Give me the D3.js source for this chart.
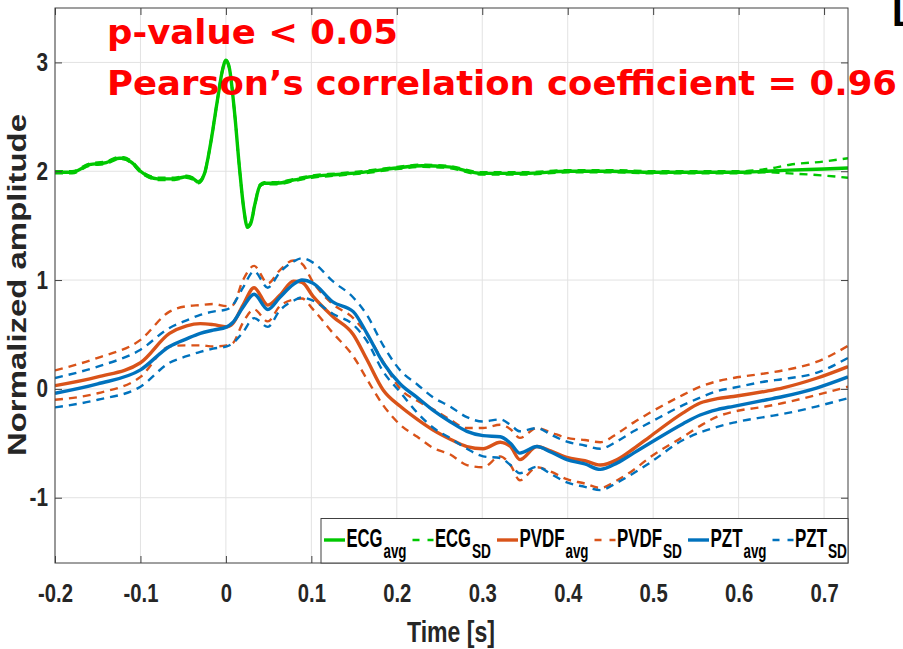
<!DOCTYPE html>
<html>
<head>
  <meta charset="utf-8">
  <script src="https://d3js.org/d3.v7.min.js"></script>
  <style>
    body { margin: 0; background: #fff; }
    svg { display: block; }
    .tick text {
      font-family: "Liberation Sans", Arial, sans-serif;
      font-weight: bold;
      font-size: 25px;
      fill: #262626;
    }
  </style>
</head>
<body>
<script>
// ECG trace, sampled more densely around the QRS complex
var ecgTime = [-0.2, -0.18, -0.16, -0.14, -0.125, -0.12, -0.11, -0.1, -0.09, -0.08, -0.06, -0.046,
  -0.038, -0.032, -0.025, -0.018, -0.01, -0.004, 0, 0.004, 0.01, 0.016, 0.021, 0.025, 0.029, 0.034,
  0.04, 0.045, 0.06, 0.08, 0.1, 0.13, 0.16, 0.2, 0.23, 0.26, 0.3, 0.35, 0.4, 0.45, 0.5, 0.55, 0.6,
  0.633, 0.66, 0.7, 0.728];
var ecgAvg = [1.99, 1.99, 2.06, 2.08, 2.12, 2.12, 2.08, 2.0, 1.95, 1.93, 1.93, 1.95,
  1.93, 1.9, 1.98, 2.25, 2.65, 2.93, 3.02, 2.95, 2.55, 2.02, 1.65, 1.49, 1.52, 1.7,
  1.87, 1.89, 1.89, 1.92, 1.95, 1.97, 1.99, 2.03, 2.05, 2.04, 1.98, 1.98, 2.0, 2.0, 1.99, 1.99, 1.99,
  2.0, 2.01, 2.02, 2.03];
var ecgUpper = [2.0, 2.0, 2.07, 2.09, 2.13, 2.13, 2.09, 2.01, 1.96, 1.94, 1.94, 1.96,
  1.94, 1.91, 1.99, 2.26, 2.66, 2.94, 3.02, 2.96, 2.56, 2.03, 1.66, 1.5, 1.53, 1.71,
  1.88, 1.9, 1.9, 1.93, 1.96, 1.98, 2.0, 2.04, 2.06, 2.05, 1.99, 1.99, 2.01, 2.01, 2.0, 2.0, 2.0,
  2.02, 2.06, 2.09, 2.12];
var ecgLower = [1.98, 1.98, 2.05, 2.07, 2.11, 2.11, 2.07, 1.99, 1.94, 1.92, 1.92, 1.94,
  1.92, 1.89, 1.97, 2.24, 2.64, 2.92, 3.01, 2.94, 2.54, 2.01, 1.64, 1.48, 1.51, 1.69,
  1.86, 1.88, 1.88, 1.91, 1.94, 1.96, 1.98, 2.02, 2.04, 2.03, 1.97, 1.97, 1.99, 1.99, 1.98, 1.98, 1.98,
  1.99, 1.98, 1.96, 1.94];

// PVDF and PZT sensor traces
var sensorTime = [-0.2, -0.15, -0.1, -0.066, -0.046, -0.03, -0.015, 0.001, 0.008, 0.02, 0.033, 0.049,
  0.063, 0.079, 0.089, 0.102, 0.125, 0.149, 0.165, 0.184, 0.204, 0.224, 0.243, 0.262, 0.282, 0.301,
  0.321, 0.333, 0.344, 0.364, 0.38, 0.399, 0.42, 0.438, 0.458, 0.477, 0.496, 0.535, 0.555, 0.575,
  0.594, 0.633, 0.652, 0.692, 0.728];
var pvdfAvg = [0.03, 0.11, 0.24, 0.51, 0.58, 0.6, 0.59, 0.57, 0.6, 0.77, 0.93, 0.77,
  0.86, 0.99, 0.98, 0.85, 0.665, 0.5, 0.27, -0.01, -0.16, -0.28, -0.38, -0.46, -0.53, -0.55,
  -0.49, -0.53, -0.65, -0.53, -0.57, -0.63, -0.66, -0.7, -0.65, -0.55, -0.44, -0.22, -0.13, -0.09,
  -0.07, -0.02, 0.01, 0.1, 0.205];
var pvdfUpper = [0.17, 0.285, 0.45, 0.71, 0.76, 0.77, 0.78, 0.76, 0.77, 1.0, 1.13, 0.97,
  1.09, 1.18, 1.15, 0.98, 0.78, 0.65, 0.5, 0.25, 0.0, -0.11, -0.19, -0.28, -0.36, -0.36,
  -0.33, -0.37, -0.45, -0.36, -0.4, -0.45, -0.47, -0.49, -0.41, -0.31, -0.22, -0.055, 0.02, 0.07,
  0.1, 0.145, 0.17, 0.25, 0.395];
var pvdfLower = [-0.1, -0.04, 0.11, 0.39, 0.4, 0.4, 0.39, 0.4, 0.42, 0.61, 0.73, 0.62,
  0.76, 0.82, 0.83, 0.73, 0.515, 0.3, 0.09, -0.15, -0.33, -0.44, -0.545, -0.6, -0.7, -0.72,
  -0.62, -0.7, -0.84, -0.72, -0.76, -0.83, -0.87, -0.91, -0.84, -0.745, -0.63, -0.44, -0.34, -0.255,
  -0.21, -0.16, -0.13, -0.055, 0.02];
var pztAvg = [-0.04, 0.046, 0.175, 0.39, 0.46, 0.51, 0.54, 0.57, 0.61, 0.75, 0.87, 0.73,
  0.84, 0.96, 1.0, 0.97, 0.8, 0.71, 0.51, 0.24, 0.045, -0.08, -0.2, -0.3, -0.39, -0.43,
  -0.44, -0.5, -0.59, -0.53, -0.58, -0.65, -0.69, -0.74, -0.68, -0.59, -0.5, -0.32, -0.24, -0.19,
  -0.16, -0.1, -0.07, 0.01, 0.11];
var pztUpper = [0.1, 0.205, 0.36, 0.56, 0.63, 0.68, 0.71, 0.73, 0.77, 0.93, 1.08, 0.93,
  1.07, 1.17, 1.2, 1.16, 0.99, 0.84, 0.68, 0.4, 0.17, 0.04, -0.08, -0.16, -0.26, -0.3,
  -0.28, -0.33, -0.39, -0.36, -0.42, -0.485, -0.52, -0.55, -0.48, -0.39, -0.31, -0.15, -0.08, -0.02,
  0.01, 0.07, 0.09, 0.15, 0.285];
var pztLower = [-0.17, -0.1, 0.02, 0.24, 0.3, 0.34, 0.37, 0.39, 0.42, 0.52, 0.65, 0.57,
  0.72, 0.81, 0.84, 0.81, 0.69, 0.59, 0.44, 0.16, -0.03, -0.22, -0.36, -0.45, -0.55, -0.62,
  -0.635, -0.7, -0.775, -0.715, -0.78, -0.86, -0.9, -0.93, -0.86, -0.775, -0.68, -0.47, -0.4, -0.35,
  -0.31, -0.255, -0.23, -0.16, -0.085];

var xTicks = [-0.2, -0.1, 0, 0.1, 0.2, 0.3, 0.4, 0.5, 0.6, 0.7];
var yTicks = [-1, 0, 1, 2, 3];

var green = "#00c800", orange = "#d95319", blue = "#0072bd";

var legendItems = [
  {name: "ECG", sub: "avg", color: green, dashed: false},
  {name: "ECG", sub: "SD", color: green, dashed: true},
  {name: "PVDF", sub: "avg", color: orange, dashed: false},
  {name: "PVDF", sub: "SD", color: orange, dashed: true},
  {name: "PZT", sub: "avg", color: blue, dashed: false},
  {name: "PZT", sub: "SD", color: blue, dashed: true}
];

var margin = {top: 8, right: 55, bottom: 86, left: 55};
var width = 903, height = 649;
var innerW = width - margin.left - margin.right,
    innerH = height - margin.top - margin.bottom;

var svg = d3.select("body").append("svg")
  .attr("width", width)
  .attr("height", height);

var x = d3.scaleLinear().domain([-0.2, 0.728]).range([margin.left, margin.left + innerW]);
var y = d3.scaleLinear().domain([-1.6, 3.5]).range([margin.top + innerH, margin.top]);

// grid
svg.append("g").selectAll("line").data(xTicks).enter().append("line")
  .attr("x1", function (d) { return x(d); }).attr("x2", function (d) { return x(d); })
  .attr("y1", y.range()[1]).attr("y2", y.range()[0])
  .style("stroke", "#e2e2e2").style("stroke-width", 1);
svg.append("g").selectAll("line").data(yTicks).enter().append("line")
  .attr("y1", function (d) { return y(d); }).attr("y2", function (d) { return y(d); })
  .attr("x1", x.range()[0]).attr("x2", x.range()[1])
  .style("stroke", "#e2e2e2").style("stroke-width", 1);

svg.append("clipPath").attr("id", "plot-clip").append("rect")
  .attr("x", margin.left).attr("y", margin.top).attr("width", innerW).attr("height", innerH);

var plot = svg.append("g").attr("clip-path", "url(#plot-clip)");

function drawLine(times, values, color, dashed) {
  var line = d3.line()
    .x(function (d, i) { return x(times[i]); })
    .y(function (d) { return y(d); })
    .curve(d3.curveMonotoneX);
  plot.append("path")
    .attr("d", line(values))
    .style("fill", "none")
    .style("stroke", color)
    .style("stroke-width", dashed ? 2.4 : 3.4)
    .style("stroke-dasharray", dashed ? "8,6" : null)
    .style("stroke-linejoin", "round");
}

drawLine(ecgTime, ecgAvg, green, false);
drawLine(ecgTime, ecgUpper, green, true);
drawLine(ecgTime, ecgLower, green, true);
drawLine(sensorTime, pvdfAvg, orange, false);
drawLine(sensorTime, pvdfUpper, orange, true);
drawLine(sensorTime, pvdfLower, orange, true);
drawLine(sensorTime, pztAvg, blue, false);
drawLine(sensorTime, pztUpper, blue, true);
drawLine(sensorTime, pztLower, blue, true);

// squeeze text horizontally, the figure uses a narrow font
function squeeze(sel, k) {
  sel.each(function () {
    var w = this.getComputedTextLength();
    d3.select(this).attr("textLength", w * k).attr("lengthAdjust", "spacingAndGlyphs");
  });
}

// axes, MATLAB style: box with inward ticks
var axisColor = "#404040";
var xAxis = svg.append("g")
  .attr("transform", "translate(0," + y.range()[0] + ")")
  .call(d3.axisBottom(x).tickValues(xTicks).tickSize(-7).tickPadding(21)
    .tickFormat(function (d) { return String(+d.toFixed(1)); }));
squeeze(xAxis.selectAll("text"), 0.81);

var yAxis = svg.append("g")
  .attr("transform", "translate(" + x.range()[0] + ",0)")
  .call(d3.axisLeft(y).tickValues(yTicks).tickSize(-7).tickPadding(7)
    .tickFormat(function (d) { return String(d); }));
squeeze(yAxis.selectAll("text"), 0.83);

svg.append("g")
  .attr("transform", "translate(0," + y.range()[1] + ")")
  .call(d3.axisTop(x).tickValues(xTicks).tickSize(-7).tickFormat(""));
svg.append("g")
  .attr("transform", "translate(" + x.range()[1] + ",0)")
  .call(d3.axisRight(y).tickValues(yTicks).tickSize(-7).tickFormat(""));

svg.selectAll(".domain").remove();
svg.selectAll(".tick line").style("stroke", axisColor);

svg.append("rect")
  .attr("x", margin.left).attr("y", margin.top)
  .attr("width", innerW).attr("height", innerH)
  .style("fill", "none").style("stroke", axisColor).style("stroke-width", 1);

// axis titles
svg.append("text")
  .attr("x", 451).attr("y", 642)
  .attr("text-anchor", "middle")
  .attr("textLength", 88).attr("lengthAdjust", "spacingAndGlyphs")
  .style("font-family", "\"Liberation Sans\", Arial, sans-serif")
  .style("font-weight", "bold").style("font-size", "30px").style("fill", "#262626")
  .text("Time [s]");

svg.append("text")
  .attr("transform", "translate(26,285) rotate(-90)")
  .attr("text-anchor", "middle")
  .attr("textLength", 342).attr("lengthAdjust", "spacingAndGlyphs")
  .style("font-family", "\"Liberation Sans\", Arial, sans-serif")
  .style("font-weight", "bold").style("font-size", "25px").style("fill", "#262626")
  .text("Normalized amplitude");

// legend
var lg = svg.append("g");
lg.append("rect")
  .attr("x", 321).attr("y", 518.5)
  .attr("width", x.range()[1] - 321).attr("height", y.range()[0] - 518.5)
  .style("fill", "#fff").style("stroke", axisColor).style("stroke-width", 1);

var legendFont = "\"Liberation Sans\", Arial, sans-serif";
var nameWidth = {ECG: 36, PVDF: 45, PZT: 32};
var subWidth = {avg: 23, SD: 19};
var lx = 324;
legendItems.forEach(function (d) {
  lg.append("line")
    .attr("x1", lx).attr("x2", lx + 21).attr("y1", 540).attr("y2", 540)
    .style("stroke", d.color)
    .style("stroke-width", d.dashed ? 2.4 : 3.4)
    .style("stroke-dasharray", d.dashed ? "7,8" : null);
  lx += 22.5;
  lg.append("text")
    .attr("x", lx).attr("y", 546.5)
    .attr("textLength", nameWidth[d.name]).attr("lengthAdjust", "spacingAndGlyphs")
    .style("font-family", legendFont).style("font-weight", "bold")
    .style("font-size", "25.5px").style("fill", "#000")
    .text(d.name);
  lx += nameWidth[d.name] + 1;
  lg.append("text")
    .attr("x", lx).attr("y", 558.3)
    .attr("textLength", subWidth[d.sub]).attr("lengthAdjust", "spacingAndGlyphs")
    .style("font-family", legendFont).style("font-weight", "bold")
    .style("font-size", "20px").style("fill", "#000")
    .text(d.sub);
  lx += subWidth[d.sub] + 6;
});

// annotations
var redFont = "\"DejaVu Sans\", sans-serif";
svg.append("text")
  .attr("x", 107).attr("y", 44)
  .attr("textLength", 291).attr("lengthAdjust", "spacingAndGlyphs")
  .style("font-family", redFont).style("font-weight", "bold")
  .style("font-size", "34px").style("fill", "#ff0000")
  .text("p-value < 0.05");
svg.append("text")
  .attr("x", 107).attr("y", 95)
  .attr("textLength", 790).attr("lengthAdjust", "spacingAndGlyphs")
  .style("font-family", redFont).style("font-weight", "bold")
  .style("font-size", "34px").style("fill", "#ff0000")
  .text("Pearson\u2019s correlation coefficient = 0.96");

svg.append("text")
  .attr("x", 892).attr("y", 26)
  .style("font-family", "\"Liberation Sans\", Arial, sans-serif")
  .style("font-weight", "bold").style("font-size", "38px").style("fill", "#000")
  .text("L");
</script>
</body>
</html>
